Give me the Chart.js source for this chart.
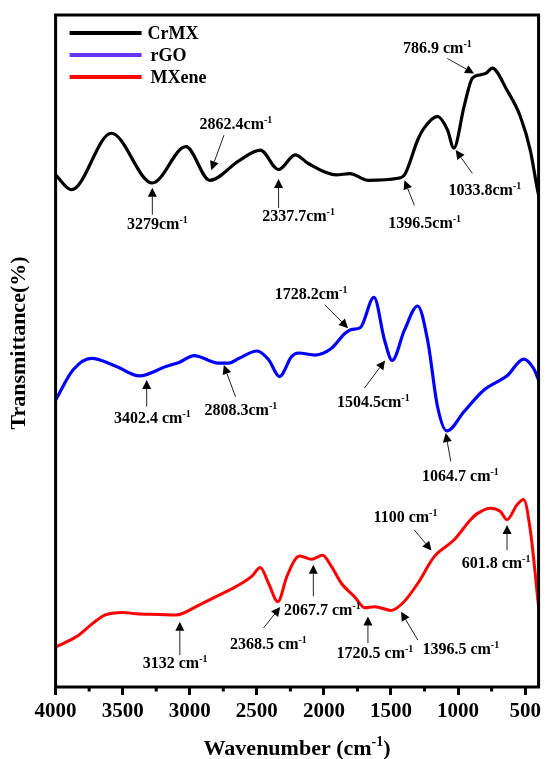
<!DOCTYPE html>
<html>
<head>
<meta charset="utf-8">
<title>FTIR spectra</title>
<script src="https://cdn.jsdelivr.net/npm/chart.js@4/dist/chart.umd.min.js"></script>
<style>
  html, body { margin: 0; padding: 0; background: #fff; }
  #wrap { width: 545px; height: 759px; position: relative; }
</style>
</head>
<body>
<div id="wrap"><canvas id="ftir"></canvas></div>
<script>
// ---- FTIR spectra: wavenumber (cm-1) and offset transmittance (a.u.) ----
const crmxWavenumber = [4000, 3881, 3585, 3279, 3029, 2850, 2634, 2474, 2338, 2214, 2116, 1908, 1807, 1672, 1449, 1396, 1301, 1252, 1153, 1079, 1032, 955, 894, 832, 787, 746, 635, 536, 462, 413, 400];
const crmxTransmittance = [76.2, 74.0, 82.4, 75.0, 80.4, 75.4, 78.3, 79.9, 77.0, 79.2, 77.9, 76.2, 76.4, 75.4, 75.7, 76.3, 81.4, 83.2, 84.9, 82.9, 80.2, 86.4, 90.6, 91.1, 91.4, 92.1, 88.8, 84.9, 79.9, 74.5, 73.2];

const rgoWavenumber = [4000, 3869, 3733, 3547, 3375, 3177, 3079, 2968, 2832, 2790, 2708, 2634, 2499, 2412, 2331, 2240, 2190, 2066, 1943, 1844, 1795, 1728, 1627, 1548, 1491, 1400, 1301, 1227, 1153, 1084, 955, 807, 635, 511, 437, 400];
const rgoTransmittance = [42.7, 47.2, 48.9, 47.7, 46.3, 47.7, 48.3, 49.3, 48.4, 48.2, 48.2, 48.9, 50.0, 48.7, 46.2, 49.2, 49.7, 49.4, 50.4, 52.6, 53.2, 53.5, 58.0, 51.6, 48.6, 53.1, 56.7, 51.6, 41.7, 38.1, 41.0, 44.2, 46.3, 48.8, 47.4, 45.7];

const mxeneWavenumber = [4000, 3844, 3721, 3634, 3499, 3399, 3227, 3103, 2931, 2758, 2659, 2536, 2474, 2412, 2343, 2277, 2214, 2180, 2091, 2010, 1943, 1869, 1770, 1696, 1622, 1499, 1412, 1301, 1178, 1029, 907, 857, 758, 684, 635, 561, 511, 462, 400];
const mxeneTransmittance = [5.95, 7.5, 9.5, 10.7, 11.1, 10.9, 10.8, 10.7, 12.2, 13.9, 14.9, 16.5, 17.8, 15.4, 12.7, 16.4, 19.0, 19.5, 19.0, 19.6, 17.9, 15.4, 13.4, 11.8, 11.95, 11.4, 12.5, 15.4, 19.4, 21.9, 24.9, 25.8, 26.6, 26.1, 24.9, 27.1, 27.9, 23.4, 11.95];

const seriesNames = ['CrMX', 'rGO', 'MXene'];
const xTickValues = [4000, 3500, 3000, 2500, 2000, 1500, 1000, 500];

// Peak annotations: series index, label, arrow tip (wavenumber, transmittance)
const peakSeries = [0, 0, 0, 0, 0, 0, 1, 1, 1, 1, 1, 2, 2, 2, 2, 2, 2, 2];
const peakText = ['3279cm', '2862.4cm', '2337.7cm', '1396.5cm', '1033.8cm', '786.9 cm',
                  '3402.4 cm', '2808.3cm', '1728.2cm', '1504.5cm', '1064.7 cm',
                  '3132 cm', '2368.5 cm', '2067.7 cm', '1720.5 cm', '1396.5 cm', '1100 cm', '601.8 cm'];
const peakTipWavenumber = [3279, 2840, 2338, 1400, 1018, 881, 3321, 2746, 1820, 1544, 1092, 3074, 2326, 2079, 1672, 1425, 1198, 635];
const peakTipTransmittance = [74.3, 76.9, 75.6, 75.4, 79.9, 91.3, 45.7, 47.9, 53.4, 48.6, 37.8, 9.7, 11.9, 18.2, 10.5, 11.2, 20.3, 24.1];

// Label placement relative to the arrow tip, in pixels: [tailDx, tailDy, textDx, textDy]
const peakLayout = [
  [0, 27, 5, 36], [12.7, -35, 24.7, -47], [0, 29, 20, 37], [10, 25, 20.3, 42], [16.7, 23.3, 29.2, 40], [-26.7, -15, -36.7, -25.3],
  [0, 26.7, 5.7, 38], [11.7, 31.7, 17, 45], [-23.3, -23.3, -37, -34.3], [-20.6, 27.6, -11.8, 41.3], [5, 28.4, 14.7, 42.7],
  [0, 33.3, -4.7, 41.3], [-16.7, 21, -11.7, 36.7], [0, 31.7, 9, 45], [0, 26.6, 7, 36.3], [16.7, 28.3, 59.7, 37.3], [-17.3, -20.7, -26, -33.7], [0, 25, -11, 38]
];

const FONT = '"Liberation Serif", "Times New Roman", serif';

function toPoints(xs, ys) { return xs.map((v, i) => ({ x: v, y: ys[i] })); }

// Text with a raised "-1" exponent, centred on (cx, cy)
function drawSupText(ctx, main, sup, after, cx, cy, size, supSize, raise) {
  ctx.font = 'bold ' + size + 'px ' + FONT;
  const w1 = ctx.measureText(main).width;
  const w3 = after ? ctx.measureText(after).width : 0;
  ctx.font = 'bold ' + supSize + 'px ' + FONT;
  const w2 = ctx.measureText(sup).width;
  let x0 = cx - (w1 + w2 + w3) / 2;
  ctx.textAlign = 'left';
  ctx.textBaseline = 'alphabetic';
  const base = cy + size * 0.33;
  ctx.font = 'bold ' + size + 'px ' + FONT;
  ctx.fillText(main, x0, base);
  ctx.font = 'bold ' + supSize + 'px ' + FONT;
  ctx.fillText(sup, x0 + w1, base - raise);
  if (after) {
    ctx.font = 'bold ' + size + 'px ' + FONT;
    ctx.fillText(after, x0 + w1 + w2, base);
  }
}

function drawArrow(ctx, x1, y1, x2, y2) {
  const ang = Math.atan2(y2 - y1, x2 - x1);
  const head = 9, half = 4.5;
  const bx = x2 - head * Math.cos(ang), by = y2 - head * Math.sin(ang);
  ctx.strokeStyle = '#222';
  ctx.lineWidth = 1;
  ctx.beginPath(); ctx.moveTo(x1, y1); ctx.lineTo(bx, by); ctx.stroke();
  ctx.fillStyle = '#000';
  ctx.beginPath();
  ctx.moveTo(x2, y2);
  ctx.lineTo(bx + half * Math.sin(ang), by - half * Math.cos(ang));
  ctx.lineTo(bx - half * Math.sin(ang), by + half * Math.cos(ang));
  ctx.closePath(); ctx.fill();
}

const decorations = {
  id: 'decorations',
  afterDatasetsDraw(chart) {
    const { ctx, chartArea: a, scales: { x, y } } = chart;
    ctx.save();

    // plot frame
    ctx.strokeStyle = '#000';
    ctx.lineWidth = 3;
    ctx.strokeRect(a.left, a.top, a.right - a.left, a.bottom - a.top);

    // short minor ticks halfway between labelled ticks
    const vals = x.ticks.map(t => t.value).sort((p, q) => p - q);
    for (let i = 0; i < vals.length - 1; i++) {
      const px = x.getPixelForValue((vals[i] + vals[i + 1]) / 2);
      ctx.beginPath(); ctx.moveTo(px, a.bottom); ctx.lineTo(px, a.bottom + 4.5); ctx.stroke();
    }

    // legend inside the plot, top-left
    chart.data.datasets.forEach((ds, i) => {
      const ly = a.top + 18 + i * 22;
      ctx.strokeStyle = ds.legendColor;
      ctx.lineWidth = 4;
      ctx.beginPath(); ctx.moveTo(a.left + 14, ly); ctx.lineTo(a.left + 86, ly); ctx.stroke();
      ctx.fillStyle = '#000';
      ctx.font = 'bold 18px ' + FONT;
      ctx.textAlign = 'left';
      ctx.textBaseline = 'middle';
      ctx.fillText(ds.label, a.left + 92 + (i ? 3 : 0), ly + 1);
    });

    // peak annotations with arrows
    ctx.fillStyle = '#000';
    peakText.forEach((txt, i) => {
      const tx = x.getPixelForValue(peakTipWavenumber[i]);
      const ty = y.getPixelForValue(peakTipTransmittance[i]);
      const [tdx, tdy, lx, ly] = peakLayout[i];
      drawArrow(ctx, tx + tdx, ty + tdy, tx, ty);
      ctx.fillStyle = '#000';
      drawSupText(ctx, txt, '-1', '', tx + lx, ty + ly, 16, 10, 6);
    });

    // axis titles
    ctx.fillStyle = '#000';
    drawSupText(ctx, 'Wavenumber (cm', '-1', ')', (a.left + a.right) / 2 + 0, 748, 22, 14, 9);
    ctx.translate(19, (a.top + a.bottom) / 2 - 8);
    ctx.rotate(-Math.PI / 2);
    ctx.font = 'bold 22px ' + FONT;
    ctx.textAlign = 'center';
    ctx.textBaseline = 'middle';
    ctx.fillText('Transmittance(%)', 0, 0);
    ctx.restore();
  }
};

new Chart(document.getElementById('ftir'), {
  type: 'line',
  data: {
    datasets: [
      { label: seriesNames[0], data: toPoints(crmxWavenumber, crmxTransmittance), borderColor: '#000000', legendColor: '#000000', borderWidth: 3.2 },
      { label: seriesNames[1], data: toPoints(rgoWavenumber, rgoTransmittance), borderColor: '#0000ff', legendColor: '#6633ff', borderWidth: 3.2 },
      { label: seriesNames[2], data: toPoints(mxeneWavenumber, mxeneTransmittance), borderColor: '#ff0000', legendColor: '#ff0000', borderWidth: 3 }
    ]
  },
  options: {
    responsive: true,
    maintainAspectRatio: false,
    animation: false,
    events: [],
    layout: { padding: { left: 55.6, right: 3.3, top: 15, bottom: 0 } },
    elements: {
      point: { radius: 0 },
      line: { cubicInterpolationMode: 'monotone', fill: false, borderJoinStyle: 'round', borderCapStyle: 'round' }
    },
    plugins: { legend: { display: false }, tooltip: { enabled: false } },
    scales: {
      x: {
        type: 'linear',
        position: 'bottom',
        reverse: true,
        min: 400,
        max: 4000,
        afterBuildTicks: (scale) => { scale.ticks = xTickValues.map(v => ({ value: v })); },
        afterFit: (scale) => { scale.height = 72; },
        border: { display: false },
        grid: { drawOnChartArea: false, drawTicks: true, tickLength: 8, tickWidth: 3, tickColor: '#000' },
        ticks: {
          autoSkip: false,
          maxRotation: 0,
          padding: 4,
          color: '#000',
          font: { family: FONT, weight: 'bold', size: 21 },
          callback: (v) => String(v)
        }
      },
      y: { type: 'linear', display: false, min: 0, max: 100 }
    }
  },
  plugins: [decorations]
});
</script>
</body>
</html>
